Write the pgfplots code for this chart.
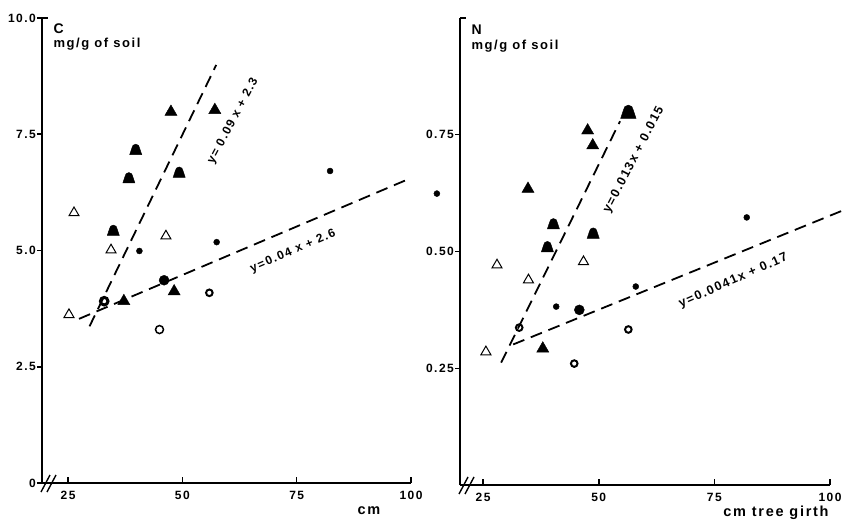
\documentclass[border=0pt]{standalone}
\usepackage{fontspec}
\setmainfont{Liberation Sans}[LetterSpace=12]
\usepackage{pgfplots}
\pgfplotsset{compat=1.18}

% bell shaped mark: filled dome on a flared base
\pgfdeclareplotmark{bell}{%
  \pgfpathmoveto{\pgfqpoint{-1.1\pgfplotmarksize}{-1.0\pgfplotmarksize}}%
  \pgfpathlineto{\pgfqpoint{-0.7\pgfplotmarksize}{0.2\pgfplotmarksize}}%
  \pgfpatharc{180}{0}{0.7\pgfplotmarksize}%
  \pgfpathlineto{\pgfqpoint{1.1\pgfplotmarksize}{-1.0\pgfplotmarksize}}%
  \pgfpathclose
  \pgfusepathqfillstroke}

\tikzset{eqn/.style={font=\fontsize{12pt}{12pt}\selectfont\bfseries, inner sep=0pt}}
\pgfplotsset{
  soil/.style={
    scale only axis, clip=false,
    axis x line=bottom, axis y line=left,
    axis line style={-, line width=2pt},
    xmax=100, ymin=0,
    xtick={25,50,75,100},
    tick align=outside,
    major tick length=5pt,
    xtick style={draw=none},
    ytick style={line width=1.5pt, black},
    ticklabel style={font=\fontsize{12pt}{12pt}\selectfont\bfseries},
    yticklabel style={inner sep=1pt},
    /pgf/number format/assume math mode=true,
  },
  regline/.style={black, line width=1.8pt, dash pattern=on 12pt off 7pt, no marks},
  otri/.style={only marks, mark=triangle, mark size=5.8pt, mark options={black, line width=1pt}},
  ftri/.style={only marks, mark=triangle*, mark size=7pt, mark options={black, fill=black}},
  fbell/.style={only marks, mark=bell, mark size=5.5pt, mark options={black, fill=black}},
  sdot/.style={only marks, mark=*, mark size=3pt, mark options={black, fill=black}},
  bdot/.style={only marks, mark=*, mark size=5pt, mark options={black, fill=black}},
  ring/.style={only marks, mark=o, mark size=3.3pt, mark options={black, line width=2pt}},
  ocirc/.style={only marks, mark=o, mark size=4pt, mark options={black, line width=1.5pt}},
}

\begin{document}
\begin{tikzpicture}[x=1pt,y=1pt]
\path[use as bounding box] (0,0) rectangle (844,523);

% ---- C panel ----
\begin{axis}[soil, at={(42pt,40pt)}, anchor=origin,
  width=369pt, height=465pt, xmin=19.3, ymax=10,
  ytick={0,2.5,5,7.5,10}, yticklabels={0,2.5,5.0,7.5,10.0}]
\addplot[otri] coordinates {(26.3,5.81) (34.4,5.01) (46.4,5.31) (25.2,3.62)};
\addplot[ftri] coordinates {(47.5,7.98) (57.1,8.02) (48.2,4.12) (37.2,3.91)};
\addplot[fbell] coordinates {(39.8,7.18) (38.3,6.57) (49.3,6.69) (34.9,5.44)};
\addplot[sdot] coordinates {(82.3,6.71) (57.5,5.18) (40.6,4.99)};
\addplot[bdot] coordinates {(46.0,4.36)};
\addplot[ring] coordinates {(55.9,4.09)};
\addplot[ring, mark size=3.8pt, mark options={line width=3pt}] coordinates {(32.9,3.91)};
\addplot[ocirc] coordinates {(45.0,3.30)};
\addplot[regline] coordinates {(29.7,3.37) (57.4,8.99)};
\addplot[regline] coordinates {(27.4,3.53) (99.8,6.55)};
\node[eqn, rotate=62] at (axis cs:61.1,7.78) {y= 0.09 x + 2.3};
\node[eqn, rotate=23.5] at (axis cs:74.2,4.98) {y=0.04 x + 2.6};
\pgfplotsinvokeforeach{25,50,75,100}{\draw[line width=1.5pt] (axis cs:#1,0) -- ++(0pt,6pt);}
\draw[line width=2pt] (axis cs:19.3,10) -- ++(6pt,0pt);
\draw[line width=1.4pt] (axis cs:19.3,0) ++(-1pt,-9pt) -- ++(9pt,17pt);
\draw[line width=1.4pt] (axis cs:19.3,0) ++(5pt,-9pt) -- ++(9pt,17pt);
\end{axis}
\node[anchor=west, font=\fontsize{14pt}{14pt}\selectfont\bfseries] at (50,494) {C};
\node[anchor=west, font=\fontsize{13pt}{13pt}\selectfont\bfseries] at (50,479) {mg/g of soil};
\node[font=\fontsize{14.5pt}{14.5pt}\selectfont\bfseries] at (369,12) {cm};

% ---- N panel ----
\begin{axis}[soil, at={(460pt,38pt)}, anchor=origin,
  width=370pt, height=467pt, xmin=20, ymax=1,
  ytick={0.25,0.5,0.75}, yticklabels={0.25,0.50,0.75}]
\addplot[otri] coordinates {(28.0,0.471) (34.8,0.439) (46.7,0.478) (25.6,0.285)};
\addplot[ftri] coordinates {(47.6,0.759) (48.7,0.727) (34.7,0.634) (37.9,0.292)};
\addplot[fbell] coordinates {(40.2,0.560) (48.8,0.540) (38.9,0.511)};
\addplot[fbell, mark size=7pt] coordinates {(56.4,0.800)};
\addplot[sdot] coordinates {(15.0,0.624) (82.0,0.573) (58.0,0.425) (40.8,0.382)};
\addplot[bdot] coordinates {(45.8,0.375)};
\addplot[ring] coordinates {(32.8,0.337) (56.4,0.333) (44.7,0.260)};
\addplot[regline] coordinates {(28.9,0.262) (54.6,0.779)};
\addplot[regline] coordinates {(31.5,0.301) (102.8,0.588)};
\node[eqn, font=\fontsize{12.5pt}{12.5pt}\selectfont\bfseries, rotate=62.5] at (axis cs:57.6,0.696) {y=0.013x + 0.015};
\node[eqn, font=\fontsize{12.5pt}{12.5pt}\selectfont\bfseries, rotate=23.8] at (axis cs:79.1,0.437) {y=0.0041x + 0.17};
\pgfplotsinvokeforeach{25,50,75,100}{\draw[line width=1.5pt] (axis cs:#1,0) -- ++(0pt,6pt);}
\draw[line width=2pt] (axis cs:20,1) -- ++(6pt,0pt);
\draw[line width=1.4pt] (axis cs:20,0) ++(-1pt,-9pt) -- ++(9pt,17pt);
\draw[line width=1.4pt] (axis cs:20,0) ++(5pt,-9pt) -- ++(9pt,17pt);
\end{axis}
\node[anchor=west, font=\fontsize{14pt}{14pt}\selectfont\bfseries] at (468,493) {N};
\node[anchor=west, font=\fontsize{13pt}{13pt}\selectfont\bfseries] at (468,477) {mg/g of soil};
\node[font=\fontsize{14.5pt}{14.5pt}\selectfont\bfseries] at (776,10) {cm tree girth};
\end{tikzpicture}
\end{document}
